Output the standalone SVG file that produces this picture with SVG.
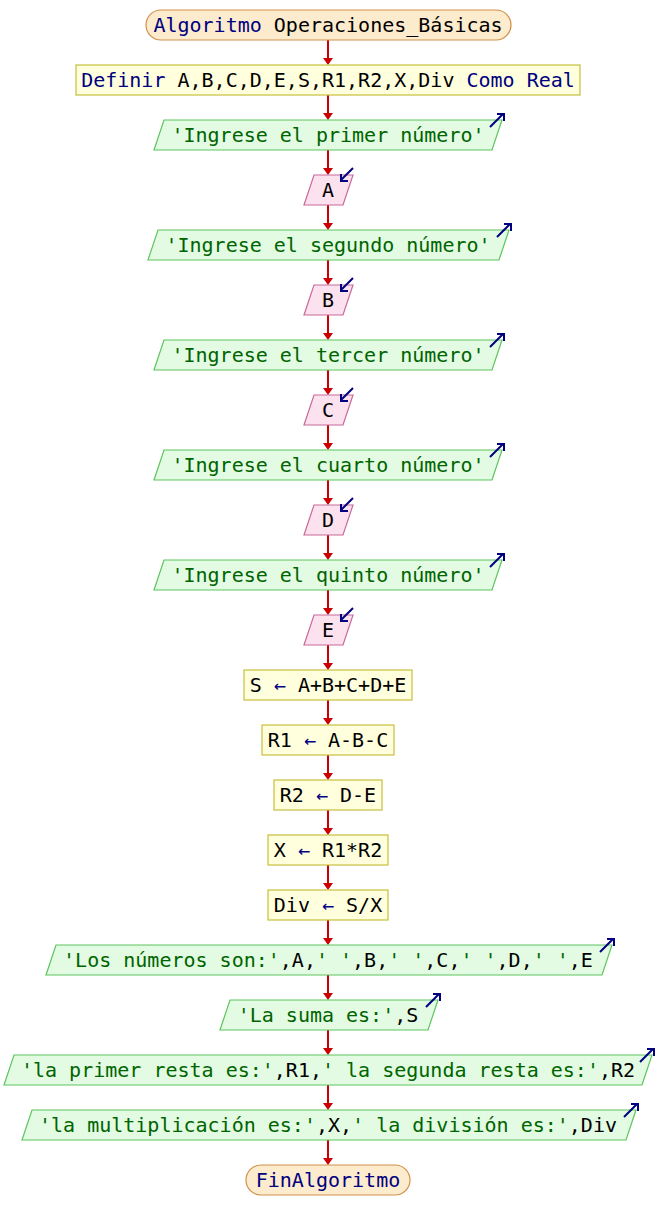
<svg xmlns="http://www.w3.org/2000/svg" width="656" height="1230" viewBox="0 0 656 1230">
<defs>
<style>
text{font-family:"DejaVu Sans Mono","Liberation Mono",monospace;font-size:20px;text-anchor:middle;fill:#000}
.kw{fill:#000080}
.st{fill:#006400}
.term{fill:#fdebcd;stroke:#d0904a;stroke-width:1.2}
.proc{fill:#ffffdd;stroke:#c8be3c;stroke-width:1.2}
.out{fill:#e2fbe2;stroke:#5cc45c;stroke-width:1.2}
.in{fill:#fce2ee;stroke:#c8689a;stroke-width:1.2}
.ico{fill:none;stroke:#000080;stroke-width:2}
.edge{stroke:#cc0000;stroke-width:2;fill:none}
.head{fill:#cc0000}
</style>
</defs>
<rect width="656" height="1230" fill="#fff"/>
<g id="connectors">
<path class="edge" d="M328 40V58M328 95V113M328 150V168M328 205V223M328 260V278M328 315V333M328 370V388M328 425V443M328 480V498M328 535V553M328 590V608M328 645V663M328 700V718M328 755V773M328 810V828M328 865V883M328 920V938M328 975V993M328 1030V1048M328 1085V1103M328 1140V1158"/>
<path class="head" d="M323 58h10l-5 7zM323 113h10l-5 7zM323 168h10l-5 7zM323 223h10l-5 7zM323 278h10l-5 7zM323 333h10l-5 7zM323 388h10l-5 7zM323 443h10l-5 7zM323 498h10l-5 7zM323 553h10l-5 7zM323 608h10l-5 7zM323 663h10l-5 7zM323 718h10l-5 7zM323 773h10l-5 7zM323 828h10l-5 7zM323 883h10l-5 7zM323 938h10l-5 7zM323 993h10l-5 7zM323 1048h10l-5 7zM323 1103h10l-5 7zM323 1158h10l-5 7z"/>
</g>
<g id="start">
<rect class="term" x="146" y="10" width="365" height="30" rx="15"/>
<text x="328" y="32"><tspan class="kw">Algoritmo</tspan> Operaciones_Básicas</text>
</g>
<g id="define">
<rect class="proc" x="76" y="65" width="504" height="30"/>
<text x="328" y="87"><tspan class="kw">Definir</tspan> A,B,C,D,E,S,R1,R2,X,Div <tspan class="kw">Como Real</tspan></text>
</g>
<g id="out1">
<polygon class="out" points="164,120 502,120 492,150 154,150"/>
<text x="328" y="142" class="st">'Ingrese el primer número'</text>
<path class="ico" d="M490 127L503 114M497 114H504V121"/>
</g>
<g id="inA">
<polygon class="in" points="314,175 353,175 343,205 304,205"/>
<text x="328" y="197">A</text>
<path class="ico" d="M353 168L341 180M341 174V181H348"/>
</g>
<g id="out2">
<polygon class="out" points="158,230 509,230 499,260 148,260"/>
<text x="328" y="252" class="st">'Ingrese el segundo número'</text>
<path class="ico" d="M497 237L510 224M504 224H511V231"/>
</g>
<g id="inB">
<polygon class="in" points="314,285 353,285 343,315 304,315"/>
<text x="328" y="307">B</text>
<path class="ico" d="M353 278L341 290M341 284V291H348"/>
</g>
<g id="out3">
<polygon class="out" points="164,340 502,340 492,370 154,370"/>
<text x="328" y="362" class="st">'Ingrese el tercer número'</text>
<path class="ico" d="M490 347L503 334M497 334H504V341"/>
</g>
<g id="inC">
<polygon class="in" points="314,395 353,395 343,425 304,425"/>
<text x="328" y="417">C</text>
<path class="ico" d="M353 388L341 400M341 394V401H348"/>
</g>
<g id="out4">
<polygon class="out" points="164,450 502,450 492,480 154,480"/>
<text x="328" y="472" class="st">'Ingrese el cuarto número'</text>
<path class="ico" d="M490 457L503 444M497 444H504V451"/>
</g>
<g id="inD">
<polygon class="in" points="314,505 353,505 343,535 304,535"/>
<text x="328" y="527">D</text>
<path class="ico" d="M353 498L341 510M341 504V511H348"/>
</g>
<g id="out5">
<polygon class="out" points="164,560 502,560 492,590 154,590"/>
<text x="328" y="582" class="st">'Ingrese el quinto número'</text>
<path class="ico" d="M490 567L503 554M497 554H504V561"/>
</g>
<g id="inE">
<polygon class="in" points="314,615 353,615 343,645 304,645"/>
<text x="328" y="637">E</text>
<path class="ico" d="M353 608L341 620M341 614V621H348"/>
</g>
<g id="assignS">
<rect class="proc" x="244" y="670" width="168" height="30"/>
<text x="328" y="692">S <tspan class="kw">←</tspan> A+B+C+D+E</text>
</g>
<g id="assignR1">
<rect class="proc" x="262" y="725" width="132" height="30"/>
<text x="328" y="747">R1 <tspan class="kw">←</tspan> A-B-C</text>
</g>
<g id="assignR2">
<rect class="proc" x="274" y="780" width="108" height="30"/>
<text x="328" y="802">R2 <tspan class="kw">←</tspan> D-E</text>
</g>
<g id="assignX">
<rect class="proc" x="268" y="835" width="120" height="30"/>
<text x="328" y="857">X <tspan class="kw">←</tspan> R1*R2</text>
</g>
<g id="assignDiv">
<rect class="proc" x="268" y="890" width="120" height="30"/>
<text x="328" y="912">Div <tspan class="kw">←</tspan> S/X</text>
</g>
<g id="out6">
<polygon class="out" points="56,945 612,945 602,975 46,975"/>
<text x="328" y="967" xml:space="preserve"><tspan class="st">'Los números son:'</tspan>,A,<tspan class="st">' '</tspan>,B,<tspan class="st">' '</tspan>,C,<tspan class="st">' '</tspan>,D,<tspan class="st">' '</tspan>,E</text>
<path class="ico" d="M600 952L613 939M607 939H614V946"/>
</g>
<g id="out7">
<polygon class="out" points="230,1000 438,1000 428,1030 220,1030"/>
<text x="328" y="1022"><tspan class="st">'La suma es:'</tspan>,S</text>
<path class="ico" d="M426 1007L439 994M433 994H440V1001"/>
</g>
<g id="out8">
<polygon class="out" points="14,1055 652,1055 642,1085 4,1085"/>
<text x="328" y="1077" xml:space="preserve"><tspan class="st">'la primer resta es:'</tspan>,R1,<tspan class="st">' la segunda resta es:'</tspan>,R2</text>
<path class="ico" d="M640 1062L653 1049M647 1049H654V1056"/>
</g>
<g id="out9">
<polygon class="out" points="32,1110 636,1110 626,1140 22,1140"/>
<text x="328" y="1132" xml:space="preserve"><tspan class="st">'la multiplicación es:'</tspan>,X,<tspan class="st">' la división es:'</tspan>,Div</text>
<path class="ico" d="M624 1117L637 1104M631 1104H638V1111"/>
</g>
<g id="end">
<rect class="term" x="246" y="1165" width="164" height="30" rx="15"/>
<text x="328" y="1187" class="kw">FinAlgoritmo</text>
</g>
</svg>
